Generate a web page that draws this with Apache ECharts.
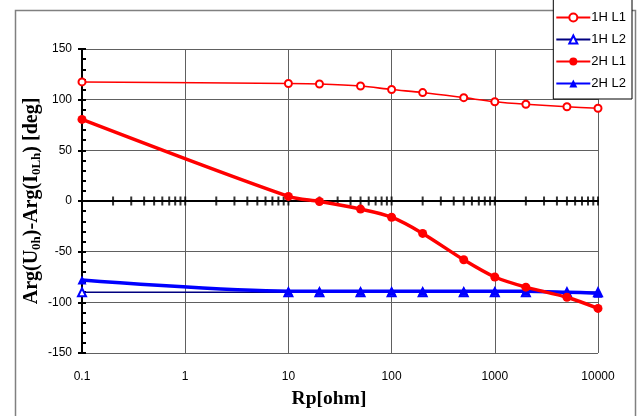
<!DOCTYPE html>
<html><head><meta charset="utf-8">
<script src="https://cdn.jsdelivr.net/npm/echarts@6/dist/echarts.min.js"></script>
<style>html,body{margin:0;padding:0;background:#fff}#c{width:638px;height:416px}</style>
</head><body><div id="c"></div>
<script>
const rp   = [0.1, 10, 20, 50, 100, 200, 500, 1000, 2000, 5000, 10000];
const h1L1 = [117.5, 116, 115.5, 113.5, 110, 107, 102, 98, 95.5, 93, 91.5];
const h1L2 = [-90, -90, -90, -90, -90, -90, -90, -90, -90, -90, -90];
const h2L1 = [80.5, 4.5, -0.5, -8, -16, -32, -58, -75, -85, -95, -106];
const h2L2 = [-78, -89, -89, -89, -89, -89, -89, -89, -89, -90, -91];
const seriesNames = ['1H L1', '1H L2', '2H L1', '2H L2'];
const xTickVals = [
  0.1, 0.2, 0.3, 0.4, 0.5, 0.6, 0.7, 0.8, 0.9,
  1, 2, 3, 4, 5, 6, 7, 8, 9,
  10, 20, 30, 40, 50, 60, 70, 80, 90,
  100, 200, 300, 400, 500, 600, 700, 800, 900,
  1000, 2000, 3000, 4000, 5000, 6000, 7000, 8000, 9000, 10000
];

const pairs = ys => rp.map((x, i) => [x, ys[i]]);
const chart = echarts.init(document.getElementById('c'), null, {renderer: 'canvas'});
const gridCol = '#606060';
const serif = 'Liberation Serif, Times New Roman, serif';
const sans = 'Liberation Sans, Arial, sans-serif';
chart.setOption({
  animation: false,
  backgroundColor: '#fff',
  graphic: [{type: 'rect', left: 13, top: 8, shape: {width: 620, height: 420}, style: {fill: 'none', stroke: '#808080', lineWidth: 1.5}, z: 0}],
  grid: {left: 82, right: 40, top: 49, bottom: 63},
  legend: {
    data: seriesNames, orient: 'vertical', right: 6, top: -2,
    backgroundColor: '#fff', borderColor: '#000', borderWidth: 1,
    padding: [13, 6, 9, 2], itemWidth: 34, itemHeight: 10, itemGap: 9,
    textStyle: {fontFamily: sans, fontSize: 13, color: '#000', padding: [0,0,0,-4]}
  },
  xAxis: [{
    type: 'log', logBase: 10, min: 0.1, max: 10000,
    axisLine: {onZero: false, show: false},
    axisTick: {show: false},
    axisLabel: {margin: 18, fontFamily: sans, fontSize: 12, color: '#000', formatter: v => String(v)},
    splitLine: {show: true, lineStyle: {color: gridCol, width: 1}},
    name: 'Rp[ohm]', nameLocation: 'middle', nameGap: 36,
    nameTextStyle: {fontFamily: serif, fontWeight: 'bold', fontSize: 19.5, color: '#000', padding: [0, 22, 0, 0]}
  }, {
    type: 'log', logBase: 10, min: 0.1, max: 10000, position: 'bottom',
    axisLine: {onZero: true, show: true, lineStyle: {color: '#000', width: 2}},
    axisTick: {show: false},
    axisLabel: {show: false},
    splitLine: {show: false}
  }],
  yAxis: [{
    type: 'value', min: -150, max: 150, interval: 50,
    axisLine: {show: true, onZero: false, lineStyle: {color: '#000', width: 2}},
    axisTick: {show: true, length: 4, lineStyle: {color: '#000', width: 2}},
    axisLabel: {margin: 10, fontFamily: sans, fontSize: 12, color: '#000'},
    splitLine: {show: true, lineStyle: {color: gridCol, width: 1}},
    name: '{n|Arg(U}{s|0h}{n|)-Arg(I}{s|0Lh}{n|) [deg]}', nameLocation: 'middle', nameGap: 39, nameRotate: 90,
    nameMoveOverlap: false,
    nameTextStyle: {rich: {
      n: {fontFamily: serif, fontWeight: 'bold', fontSize: 20, color: '#000'},
      s: {fontFamily: serif, fontWeight: 'bold', fontSize: 13, color: '#000', verticalAlign: 'bottom', padding: [9,0,0,0]}
    }}
  }, {
    type: 'value', min: -150, max: 150, interval: 50, position: 'left',
    axisLine: {show: true, onZero: false, lineStyle: {color: '#000', width: 2}},
    axisTick: {show: true, inside: true, length: 4, lineStyle: {color: '#000', width: 2}},
    minorTick: {show: true, splitNumber: 5, length: 4, lineStyle: {color: '#000', width: 2}},
    axisLabel: {show: false},
    splitLine: {show: false}
  }],
  series: [
    {name: 'ticks', type: 'scatter', xAxisIndex: 1, data: xTickVals.map(v => [v, 0]), symbol: 'rect', symbolSize: [2, 9],
      itemStyle: {color: '#000'}, silent: true, z: 1},
    {name: '1H L1', type: 'line', data: pairs(h1L1), smooth: 0.3, symbol: 'emptyCircle', symbolSize: 7,
      lineStyle: {color: '#ff0000', width: 1.6}, itemStyle: {color: '#ff0000', borderWidth: 1}, z: 3},
    {name: '1H L2', type: 'line', data: pairs(h1L2), smooth: 0.3, symbol: 'emptyTriangle', symbolSize: 8,
      lineStyle: {color: '#000080', width: 1.6}, itemStyle: {color: '#0000ff', borderWidth: 1}, z: 2},
    {name: '2H L1', type: 'line', data: pairs(h2L1), smooth: 0.3, symbol: 'circle', symbolSize: 9,
      lineStyle: {color: '#ff0000', width: 3.5}, itemStyle: {color: '#ff0000'}, z: 4},
    {name: '2H L2', type: 'line', data: pairs(h2L2), smooth: 0.3, symbol: 'triangle', symbolSize: 9,
      lineStyle: {color: '#0000ff', width: 3.5}, itemStyle: {color: '#0000ff'}, z: 3}
  ]
});
</script></body></html>
